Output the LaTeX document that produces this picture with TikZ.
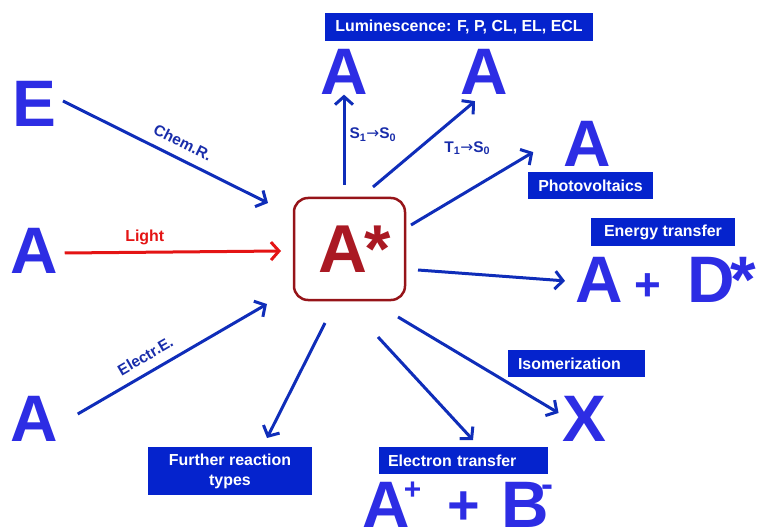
\documentclass[tikz,border=0pt]{standalone}
\usepackage{fontspec}
\setmainfont{Liberation Sans}
\newfontfamily\dejavu{DejaVu Sans}
\usetikzlibrary{arrows.meta,calc}
\definecolor{arrblue}{RGB}{15,45,185}
\definecolor{boxblue}{RGB}{5,35,205}
\definecolor{letblue}{RGB}{45,45,228}
\definecolor{labblue}{RGB}{25,45,170}
\definecolor{boxred}{RGB}{150,20,25}
\definecolor{ared}{RGB}{170,25,35}
\definecolor{lightred}{RGB}{228,20,20}
\begin{document}
\begin{tikzpicture}[x=1bp,y=-1bp,
  big/.style={text=letblue, font=\bfseries\fontsize{66}{66}\selectfont, inner sep=0pt, outer sep=0pt},
  lbl/.style={fill=boxblue, text=white, font=\bfseries\fontsize{16}{20}\selectfont, inner ysep=0pt, inner xsep=0pt, outer sep=0pt, align=center},
  arr/.style={draw=arrblue, line width=3bp, -{Straight Barb[length=8bp,width=18bp]}},
  alab/.style={text=labblue, font=\bfseries\fontsize{15.5}{15.5}\selectfont, inner sep=0pt},
  exc/.style={draw=boxred, line width=2.5bp, rounded corners=14bp, minimum width=111bp, minimum height=102bp, inner sep=0pt, outer sep=0pt, text=ared, font=\bfseries\fontsize{68}{68}\selectfont}
]
\useasboundingbox (0,0) rectangle (758,527);

% central excited state
\node[exc] (ex) at (349.5,249) {\hspace*{10pt}A\kern-3pt*};

% left sources
\node[big] (E) at (34,103.5) {E};
\node[big] (aL) at (34,251) {A};
\node[big] (aB) at (34,419) {A};

% products
\node[big] (aT1) at (344,72) {A};
\node[big] (aT2) at (484,72) {A};
\node[big] (aP) at (587,144) {A};
\node[big] (X) at (584.5,418.5) {X};
\node[big, anchor=base west] (AD) at (575,303) {A\hspace{12pt}\raisebox{3pt}{\fontsize{46}{46}\selectfont +}\hspace{26.5pt}D\kern-4.6pt*};
\node[big, anchor=base west] (AB) at (362,527) {A\kern-5.6pt\raisebox{28pt}{\fontsize{30}{30}\selectfont +}\hspace{26.5pt}\raisebox{3pt}{\fontsize{56}{56}\selectfont +}\hspace{21.3pt}B\kern-8pt\raisebox{31pt}{\fontsize{36}{36}\selectfont -}};

% label boxes
\node[lbl, minimum width=268bp, minimum height=28bp] (lum) at (459,27) {Luminescence: F, P, CL, EL, ECL};
\node[lbl, minimum width=125bp, minimum height=27bp] (pv) at (590.5,185.5) {Photovoltaics};
\node[lbl, minimum width=144bp, minimum height=28bp] (en) at (663,232) {Energy transfer};
\node[lbl, minimum height=27bp, inner xsep=10bp, text width=117bp, align=left] (iso) at (576.5,363.5) {Isomerization};
\node[lbl, minimum height=27bp, inner xsep=9bp, text width=151bp, align=left] (et) at (463.5,460.5) {Electron transfer};
\node[lbl, minimum width=164bp, minimum height=48bp] (fr) at (230,471) {Further reaction\\types};

% incoming arrows
\draw[arr] ($(E.east)+(7,-2.5)$) -- node[alab, sloped, above=9bp, pos=0.55] {Chem.R.} ($(ex.north west)+(-26,5)$);
\draw[arr, draw=lightred] ($(aL.east)+(7,2)$) -- node[pos=0.37, above=5.5bp, inner sep=0pt, text=lightred, font=\bfseries\fontsize{16}{16}\selectfont] {Light} ($(ex.west)+(-13,2)$);
\draw[arr] ($(aB.east)+(20,-5)$) -- node[alab, sloped, above=9bp, pos=0.4] {Electr.E.} ($(ex.south west)+(-27,4)$);

% outgoing arrows
\draw[arr] ($(ex.north)+(-5.5,-13)$) -- node[alab, pos=0.556, right=4bp] {S\textsubscript{1}{\dejavu\mdseries →}S\textsubscript{0}} (aT1.south);
\draw[arr] ($(ex.north)+(23.5,-11)$) -- node[alab, pos=0.45, anchor=west, xshift=24bp] {T\textsubscript{1}{\dejavu\mdseries →}S\textsubscript{0}} ($(aT2.south)+(-9,6.5)$);
\draw[arr] ($(ex.north east)+(6,27)$) -- ($(aP.south west)+(-30,-14.5)$);
\draw[arr] ($(ex.east)+(13,21)$) -- ($(AD.west)+(-10,0.5)$);
\draw[arr] ($(ex.south east)+(-7,17)$) -- ($(X.west)+(-4,-5.5)$);
\draw[arr] ($(ex.south)+(28.5,37)$) -- ($(et.north)+(9.5,-7)$);
\draw[arr] ($(ex.south)+(-24.5,23)$) -- ($(fr.north)+(37,-9)$);
\end{tikzpicture}
\end{document}
